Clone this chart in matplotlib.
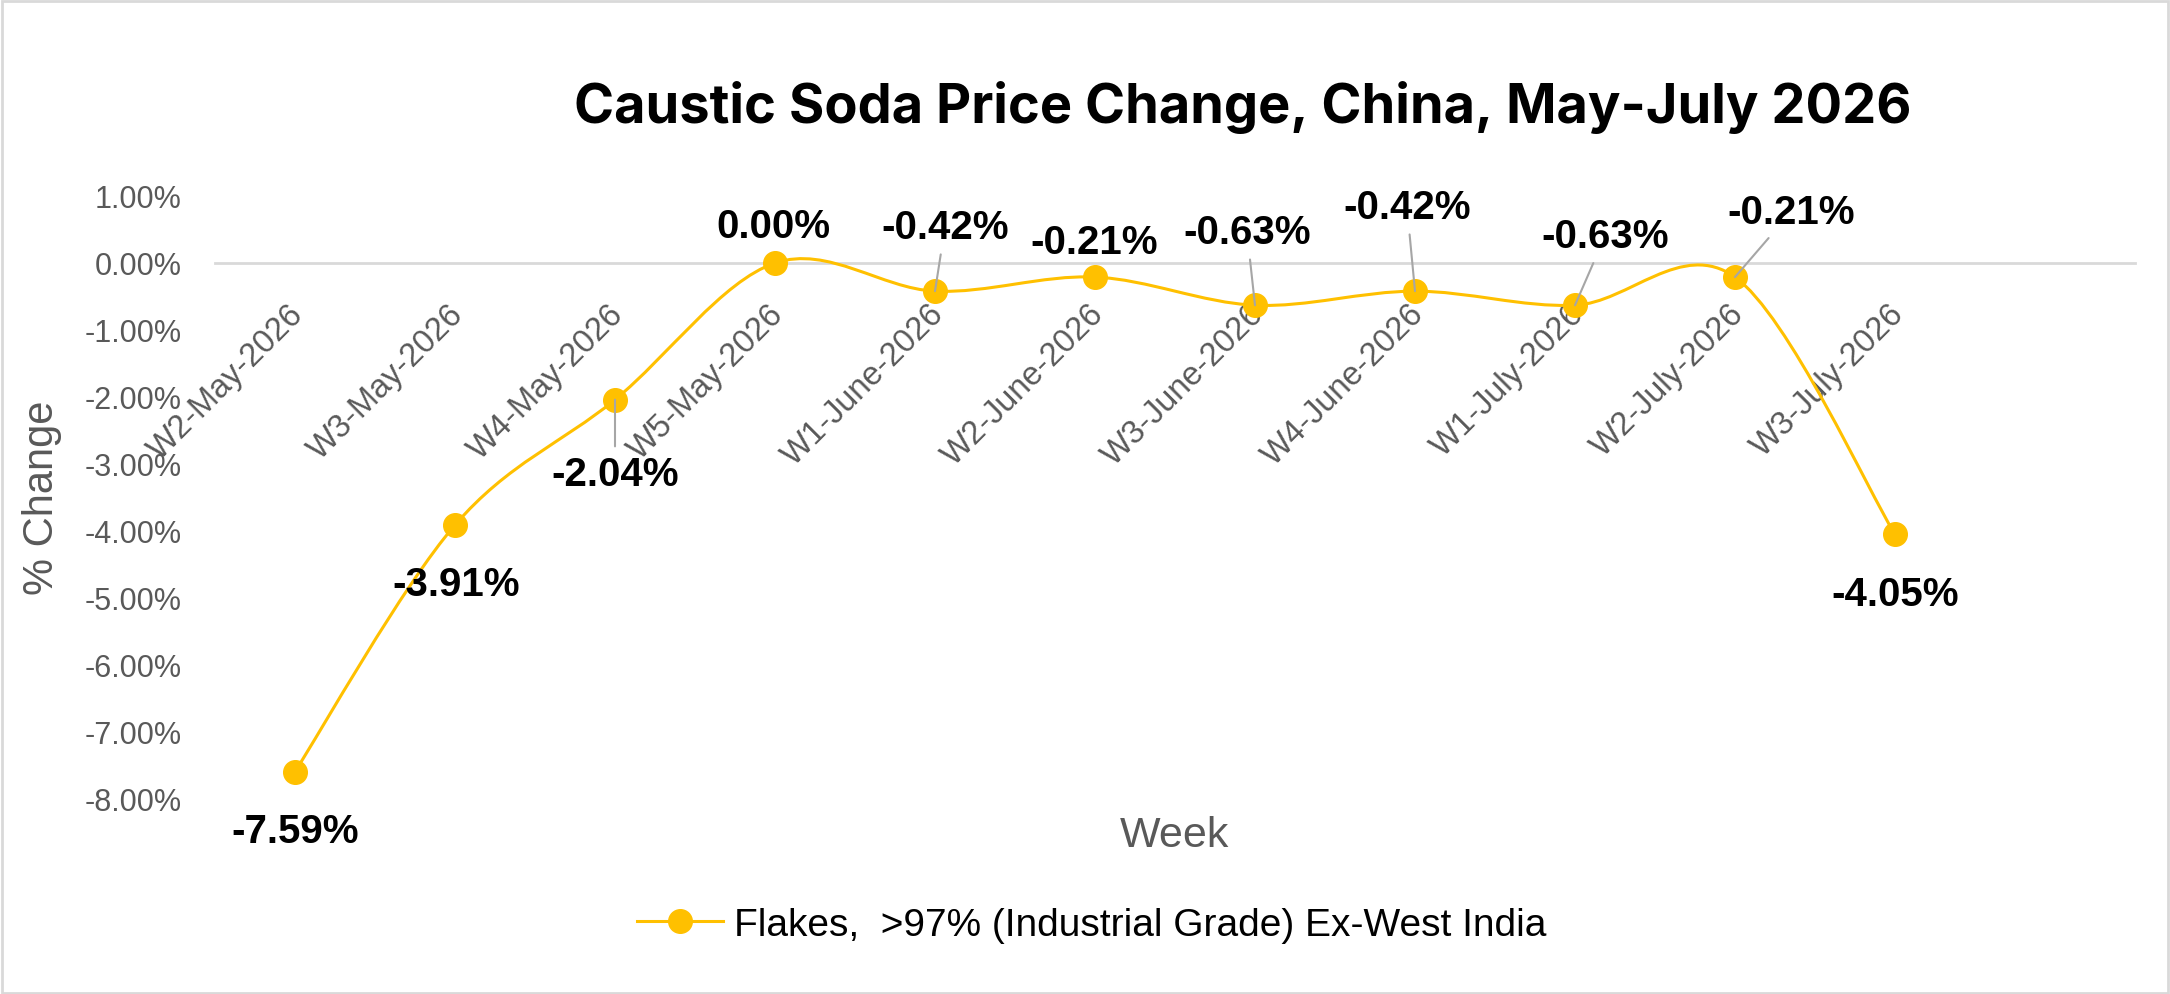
import matplotlib
matplotlib.use("Agg")
import matplotlib.pyplot as plt
from matplotlib.path import Path
from matplotlib.patches import PathPatch, Rectangle
from matplotlib.lines import Line2D
from matplotlib.ticker import FuncFormatter
from matplotlib.transforms import ScaledTranslation

weeks = ["W2-May-2026", "W3-May-2026", "W4-May-2026", "W5-May-2026",
         "W1-June-2026", "W2-June-2026", "W3-June-2026", "W4-June-2026",
         "W1-July-2026", "W2-July-2026", "W3-July-2026"]
change = [-7.59, -3.91, -2.04, 0.00, -0.42, -0.21, -0.63, -0.42, -0.63, -0.21, -4.05]
series_name = "Flakes,  >97% (Industrial Grade) Ex-West India"

# label offsets in pixels (dx, dy) and whether a leader line is drawn
label_offsets = [(0, -59), (1, -59), (0, -74), (-2, 37), (10, 64), (-1, 35),
                 (-8, 73), (-8, 84), (30, 69), (56, 65), (0, -60)]
leaders = [False, False, True, False, True, False, True, True, True, True, False]

gold = "#FFC000"
grey = "#595959"
plt.rcParams["font.family"] = "Liberation Sans"

fig = plt.figure(figsize=(21.7, 9.95), dpi=100)
ax = fig.add_axes([215 / 2170, 1 - 800 / 995, (2135 - 215) / 2170, (800 - 197) / 995])

x = list(range(len(change)))

# smoothed line like Excel (Catmull-Rom as cubic Bezier)
pts = list(zip(x, change))
verts = [pts[0]]
codes = [Path.MOVETO]
for i in range(len(pts) - 1):
    p0 = pts[i - 1] if i > 0 else pts[i]
    p1 = pts[i]
    p2 = pts[i + 1]
    p3 = pts[i + 2] if i + 2 < len(pts) else pts[i + 1]
    c1 = (p1[0] + (p2[0] - p0[0]) / 6, p1[1] + (p2[1] - p0[1]) / 6)
    c2 = (p2[0] - (p3[0] - p1[0]) / 6, p2[1] - (p3[1] - p1[1]) / 6)
    verts += [c1, c2, p2]
    codes += [Path.CURVE4] * 3
ax.add_patch(PathPatch(Path(verts, codes), fill=False, edgecolor=gold, lw=2.2, zorder=3))
ax.plot(x, change, "o", color=gold, markersize=17, zorder=4)

for i, v in enumerate(change):
    dx, dy = label_offsets[i]
    arrow = dict(arrowstyle="-", color="#A6A6A6", lw=1.5, shrinkA=4, shrinkB=0) if leaders[i] else None
    ax.annotate(f"{v:.2f}%", (i, v), xytext=(dx, dy), textcoords="offset pixels",
                ha="center", va="center", fontsize=29, fontweight="bold", color="black",
                arrowprops=arrow, zorder=5)

ax.set_xlim(-0.5, 11.5)
ax.set_ylim(-8, 1)
ax.set_yticks([1, 0, -1, -2, -3, -4, -5, -6, -7, -8])
ax.yaxis.set_major_formatter(FuncFormatter(lambda v, p: f"{v:.2f}%"))
ax.set_xticks(x)
ax.set_xticklabels(weeks)

for s in ["top", "right", "left"]:
    ax.spines[s].set_visible(False)
ax.spines["bottom"].set_position(("data", 0))
ax.spines["bottom"].set_color("#D9D9D9")
ax.spines["bottom"].set_linewidth(2)
ax.tick_params(axis="y", length=0, labelcolor=grey, labelsize=22, pad=24)
ax.tick_params(axis="x", length=0, labelcolor=grey, labelsize=23.5, pad=26)
shift = ScaledTranslation(-0.07, 0.01, fig.dpi_scale_trans)
for lab in ax.get_xticklabels():
    lab.set_rotation(45)
    lab.set_ha("right")
    lab.set_rotation_mode("anchor")
    lab.set_transform(lab.get_transform() + shift)

fig.text(1243 / 2170, 1 - 108 / 995, "Caustic Soda Price Change, China, May-July 2026",
         ha="center", va="center", fontsize=39, fontweight="bold", color="black",
         family="Inter")
fig.text(42 / 2170, 1 - 498 / 995, "% Change", rotation=90, ha="center", va="center",
         fontsize=30, color=grey)
fig.text(1174 / 2170, 1 - 836 / 995, "Week", ha="center", va="center", fontsize=31, color=grey)

handle = Line2D([], [], color=gold, lw=2.2, marker="o", markersize=17)
fig.legend([handle], [series_name], loc="center", bbox_to_anchor=(1092 / 2170, 1 - 926 / 995),
           frameon=False, fontsize=28, handlelength=2.2, handletextpad=0.3)

fig.add_artist(Rectangle((0.001, 0.001), 0.998, 0.997, transform=fig.transFigure,
                         fill=False, edgecolor="#D9D9D9", lw=2))

fig.savefig("out.png", dpi=100)
